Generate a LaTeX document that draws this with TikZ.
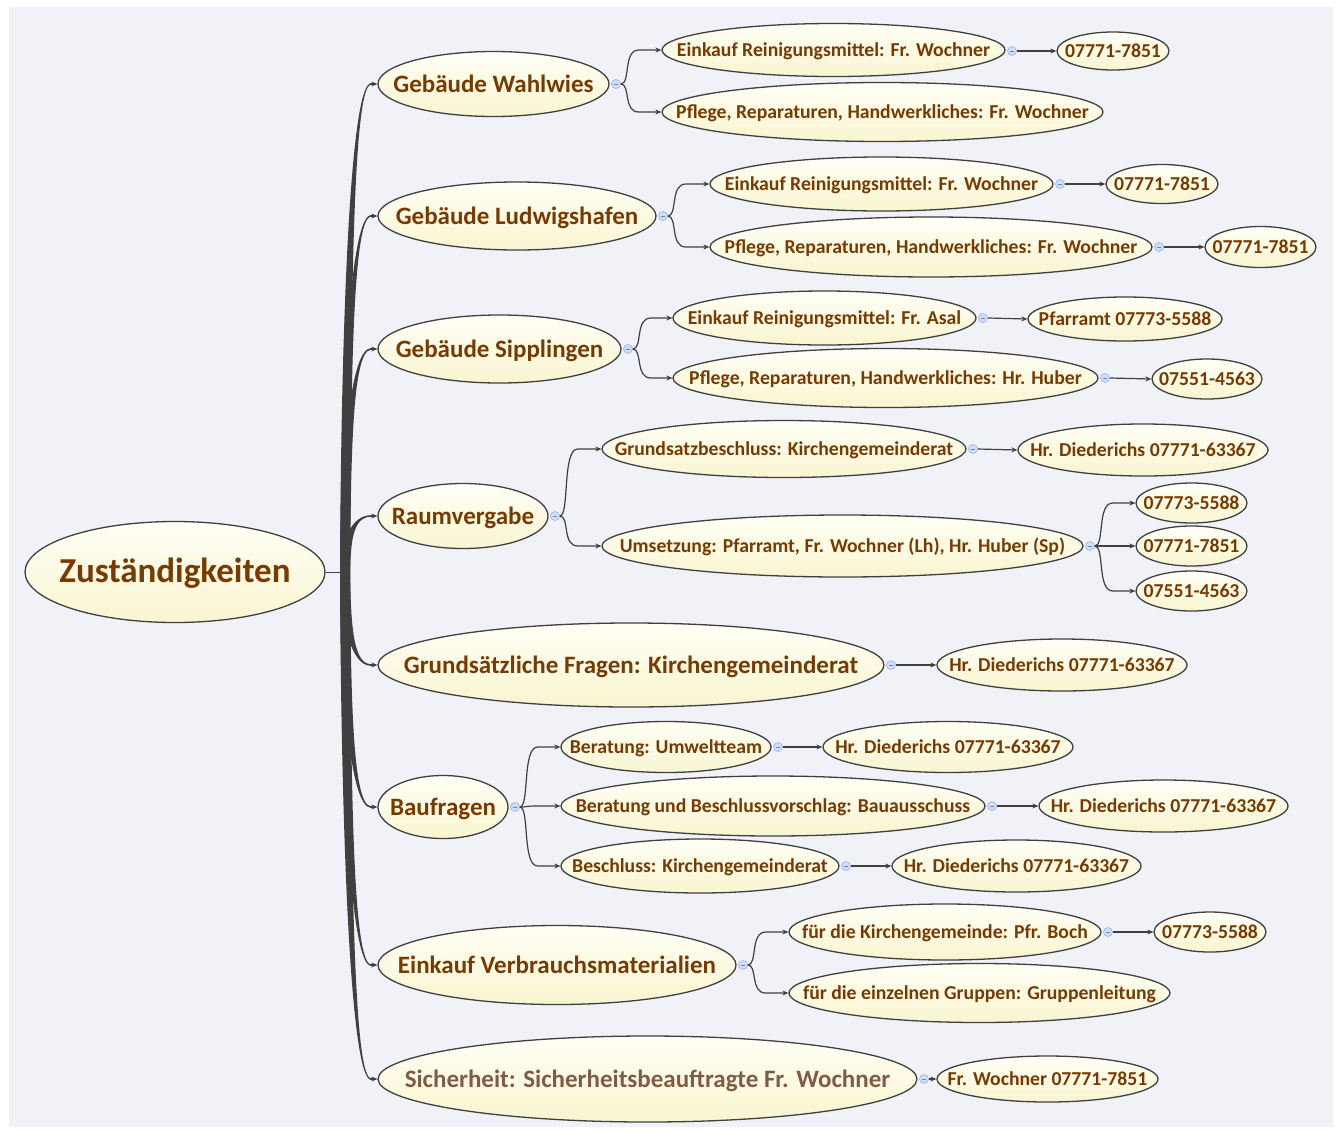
\documentclass[tikz,border=0pt]{standalone}
\usepackage{fontspec}
\setmainfont{Carlito}
\usetikzlibrary{arrows.meta,calc,shapes.geometric}
\definecolor{bg}{RGB}{241,242,248}
\definecolor{txt}{RGB}{120,58,0}
\definecolor{txtg}{RGB}{128,92,70}
\definecolor{bord}{RGB}{64,64,64}
\definecolor{ftop}{RGB}{255,255,246}
\definecolor{fbot}{RGB}{249,245,208}
\definecolor{dotf}{RGB}{208,222,246}
\definecolor{dotd}{RGB}{150,180,230}
\definecolor{linec}{RGB}{64,64,64}
\tikzset{
  topic/.style={ellipse, draw=bord, line width=1.3pt, top color=ftop, bottom color=fbot,
    inner sep=0pt, text=txt},
  lv0/.style={font=\fontsize{35}{38}\selectfont\bfseries, text height=28pt, text depth=7pt},
  lv1/.style={font=\fontsize{25}{28}\selectfont\bfseries, text height=20pt, text depth=4pt},
  lv2/.style={font=\fontsize{19.7}{22}\selectfont\bfseries, text height=15pt, text depth=3pt},
  dotn/.style={circle, minimum size=9pt, inner sep=0pt, fill=dotf, draw=dotd, line width=0.6pt,
    path picture={\draw[dotd!70!blue, line width=0.6pt] ([xshift=-2pt]path picture bounding box.center) -- ([xshift=2pt]path picture bounding box.center);}},
  conn/.style={draw=linec, line width=1.2pt, -{Stealth[length=6pt,width=5pt]}},
  tipc/.style={draw=linec, line width=1.2pt, -{Stealth[length=6pt,width=5pt]}},
}
\newcommand\mytn[7]{\node[topic,#6,minimum width={(#3)-(#2)},minimum height=#5] (#1) at ({((#2)+(#3))/2},#4) {\makebox[0pt]{#7}};}
\newcommand\mydt[3]{\node[dotn] (#1) at (#2,#3) {};}
\newcommand\mycc[2]{\draw[conn] let \p1=(#1.east), \p2=(#2.west) in (\p1) .. controls (\x1+10pt,\y1) and (\x1+2pt,\y2) .. (\x1+18pt,\y2) -- (\p2);}
\newcommand\mysc[2]{\draw[conn] (#1.east) -- (#2.west);}
\newcommand\mytrunk[2]{%
  \pgfmathsetmacro\my{572+0.5*((#1)-572)}%
  \pgfmathsetmacro\dd{(#1)<572 ? 1 : -1}%
  \fill[linec] (340,572) .. controls (341,\my) and (350,{(#1)-\dd*0.8}) .. (371,{(#1)-\dd*0.8})
     -- (371,{(#1)+\dd*0.8}) .. controls (352,{(#1)+\dd*0.8}) and (351,\my) .. (350,572) -- cycle;
  \draw[tipc] (370,#1) -- (#2.west);
}
\begin{document}
\begin{tikzpicture}[x=1pt,y=-1pt]
\useasboundingbox (0,0) rectangle (1336,1130);
\fill[bg] (9,7) rectangle (1333,1127);
% root
\mytn{root}{25}{325}{572}{101}{lv0}{Zuständigkeiten}
% level 1
\mytn{w}{378}{609}{84}{65}{lv1}{Gebäude Wahlwies}
\mytn{l}{378}{656}{216}{68}{lv1}{Gebäude Ludwigshafen}
\mytn{s}{378}{621}{349}{68}{lv1}{Gebäude Sipplingen}
\mytn{r}{378}{548}{516}{65}{lv1}{Raumvergabe}
\mytn{g}{378}{884}{665}{84}{lv1}{Grundsätzliche Fragen: Kirchengemeinderat}
\mytn{b}{378}{508}{807}{63}{lv1}{Baufragen}
\mytn{e}{378}{736}{965}{79}{lv1}{Einkauf Verbrauchsmaterialien}
\mytn{h}{378}{917}{1079}{86}{lv1,text=txtg}{Sicherheit: Sicherheitsbeauftragte Fr. Wochner}
% level 2 and 3
\mytn{w1}{662}{1005}{50}{53}{lv2}{Einkauf Reinigungsmittel: Fr. Wochner}
\mytn{w1p}{1057}{1169}{51}{38}{lv2}{07771-7851}
\mytn{w2}{662}{1103}{112}{59}{lv2}{Pflege, Reparaturen, Handwerkliches: Fr. Wochner}
\mytn{l1}{710}{1053}{184}{54}{lv2}{Einkauf Reinigungsmittel: Fr. Wochner}
\mytn{l1p}{1106}{1218}{184}{39}{lv2}{07771-7851}
\mytn{l2}{710}{1152}{247}{60}{lv2}{Pflege, Reparaturen, Handwerkliches: Fr. Wochner}
\mytn{l2p}{1205}{1316}{247}{41}{lv2}{07771-7851}
\mytn{s1}{673}{976}{318}{54}{lv2}{Einkauf Reinigungsmittel: Fr. Asal}
\mytn{s1p}{1028}{1222}{319}{44}{lv2}{Pfarramt 07773-5588}
\mytn{s2}{673}{1098}{378}{59}{lv2}{Pflege, Reparaturen, Handwerkliches: Hr. Huber}
\mytn{s2p}{1152}{1262}{379}{40}{lv2}{07551-4563}
\mytn{r1}{602}{966}{449}{57}{lv2}{Grundsatzbeschluss: Kirchengemeinderat}
\mytn{r1p}{1018}{1268}{450}{52}{lv2}{Hr. Diederichs 07771-63367}
\mytn{r2}{602}{1083}{546}{62}{lv2}{Umsetzung: Pfarramt, Fr. Wochner (Lh), Hr. Huber (Sp)}
\mytn{r2a}{1136}{1247}{503}{40}{lv2}{07773-5588}
\mytn{r2b}{1136}{1247}{546}{40}{lv2}{07771-7851}
\mytn{r2c}{1136}{1247}{591}{40}{lv2}{07551-4563}
\mytn{gp}{937}{1187}{665}{52}{lv2}{Hr. Diederichs 07771-63367}
\mytn{b1}{561}{771}{747}{51}{lv2}{Beratung: Umweltteam}
\mytn{b1p}{823}{1073}{747}{51}{lv2}{Hr. Diederichs 07771-63367}
\mytn{b2}{561}{985}{806}{60}{lv2}{Beratung und Beschlussvorschlag: Bauausschuss}
\mytn{b2p}{1039}{1288}{806}{52}{lv2}{Hr. Diederichs 07771-63367}
\mytn{b3}{561}{839}{866}{54}{lv2}{Beschluss: Kirchengemeinderat}
\mytn{b3p}{892}{1141}{866}{52}{lv2}{Hr. Diederichs 07771-63367}
\mytn{e1}{789}{1101}{932}{56}{lv2}{für die Kirchengemeinde: Pfr. Boch}
\mytn{e1p}{1154}{1266}{932}{40}{lv2}{07773-5588}
\mytn{e2}{789}{1170}{993}{59}{lv2}{für die einzelnen Gruppen: Gruppenleitung}
\mytn{hp}{937}{1158}{1079}{46}{lv2}{Fr. Wochner 07771-7851}
% trunk
\draw[linec, line width=1pt] (root.east) -- (345,572);
\mytrunk{84}{w}
\mytrunk{216}{l}
\mytrunk{349}{s}
\mytrunk{516}{r}
\mytrunk{665}{g}
\mytrunk{807}{b}
\mytrunk{965}{e}
\mytrunk{1079}{h}
% dots
\mydt{dw}{616}{84}
\mydt{dl}{663}{216}
\mydt{ds}{628}{349}
\mydt{dr}{555}{516}
\mydt{dg}{891}{665}
\mydt{db}{515}{807}
\mydt{de}{743}{965}
\mydt{dh}{924}{1079}
\mydt{dw1}{1012}{51}
\mydt{dl1}{1060}{184}
\mydt{dl2}{1159}{247}
\mydt{ds1}{983}{318}
\mydt{ds2}{1105}{378}
\mydt{dr1}{973}{449}
\mydt{dr2}{1090}{546}
\mydt{db1}{778}{747}
\mydt{db2}{992}{806}
\mydt{db3}{846}{866}
\mydt{de1}{1108}{932}
% level 2 connectors
\mycc{dw}{w1} \mycc{dw}{w2}
\mycc{dl}{l1} \mycc{dl}{l2}
\mycc{ds}{s1} \mycc{ds}{s2}
\mycc{dr}{r1} \mycc{dr}{r2}
\mysc{dg}{gp}
\mycc{db}{b1} \mycc{db}{b2} \mycc{db}{b3}
\mycc{de}{e1} \mycc{de}{e2}
\mysc{dh}{hp}
% level 3 connectors
\mysc{dw1}{w1p}
\mysc{dl1}{l1p}
\mysc{dl2}{l2p}
\mysc{ds1}{s1p}
\mysc{ds2}{s2p}
\mysc{dr1}{r1p}
\mycc{dr2}{r2a} \mycc{dr2}{r2b} \mycc{dr2}{r2c}
\mysc{db1}{b1p}
\mysc{db2}{b2p}
\mysc{db3}{b3p}
\mysc{de1}{e1p}
\end{tikzpicture}
\end{document}
